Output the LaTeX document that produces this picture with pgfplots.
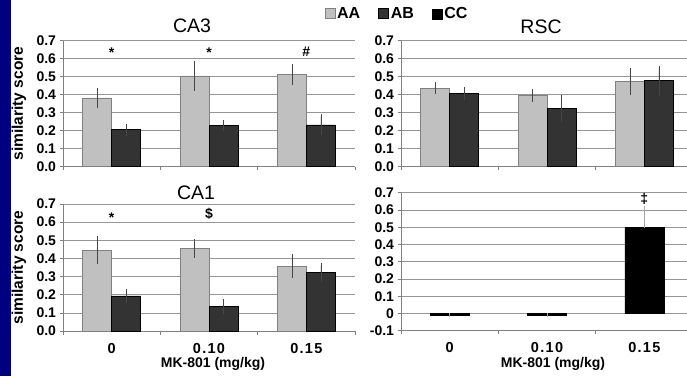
\documentclass[border=0pt]{standalone}
\usepackage{pgfplots}
\pgfplotsset{compat=1.18}
\usepackage{fontspec}
\setmainfont{Liberation Sans}
\definecolor{aa}{RGB}{192,192,192}
\definecolor{aaedge}{RGB}{128,128,128}
\definecolor{ab}{RGB}{51,51,51}
\definecolor{navyblue}{RGB}{0,0,128}
\definecolor{gridc}{RGB}{150,150,150}
\definecolor{axc}{RGB}{128,128,128}
\definecolor{errc}{RGB}{70,70,70}

\newcommand{\tickfont}{\bfseries\fontsize{14}{14}\selectfont}
\newcommand{\xtickfont}{\bfseries\fontsize{14.5}{14.5}\selectfont\addfontfeature{LetterSpace=9}}

\pgfplotsset{
  boxleg/.style={legend image code/.code={\draw[##1] (0pt,-5pt) rectangle (10pt,5pt);}},
  panel/.style={
    scale only axis,
    width=292pt, height=126pt,
    anchor=south west,
    xmin=-0.5, xmax=2.5,
    ymin=0, ymax=0.7,
    ytick={0,0.1,0.2,0.3,0.4,0.5,0.6,0.7},
    axis x line*=bottom, axis y line*=left,
    axis line style={draw=axc, line width=0.6pt},
    ymajorgrids, grid style={draw=gridc, line width=0.6pt},
    tick style={draw=axc, line width=0.6pt},
    tick align=outside, major tick length=3.5pt,
    xtick={-0.5,0.5,1.5,2.5}, xticklabels={},
    /pgf/number format/assume math mode=true,
    yticklabel style={font=\tickfont, /pgf/number format/.cd, fixed, fixed zerofill, precision=1},
    ybar, bar width=29pt,
    error bars/y dir=both, error bars/y explicit,
    error bars/error mark=-,
    error bars/error bar style={draw=errc, line width=0.6pt},
    error bars/error mark options={draw=errc, mark size=2pt, line width=0.6pt},
  },
  aastyle/.style={fill=aa, draw=aaedge, line width=0.6pt, bar shift=-14.5pt, boxleg},
  abstyle/.style={fill=ab, draw=black, line width=0.6pt, bar shift=14.5pt, boxleg},
  catlabels/.style={
    extra x ticks={0,1,2},
    extra x tick labels={0,0.10,0.15},
    extra x tick style={major tick length=0pt, grid=none,
      xticklabel style={font=\xtickfont, anchor=base, yshift=#1}},
  },
  ylab/.style={
    ylabel={similarity score},
    ylabel style={font=\bfseries\fontsize{15.5}{15.5}\selectfont, at={(axis description cs:-0.151,0.5)}, anchor=center, rotate=0},
  },
}

\begin{document}
\begin{tikzpicture}[x=1pt,y=1pt]
\useasboundingbox (0,0) rectangle (687,376);
\fill[white] (0,0) rectangle (687,376);
\fill[navyblue] (0,0) rectangle (11,376);

% CA3
\begin{axis}[panel, ylab, at={(63pt,209.3pt)},
  legend style={at={(0.895,1.214)}, anchor=west, draw=none, fill=none,
    legend columns=3, font=\bfseries\fontsize{16}{16}\selectfont,
    /tikz/every even column/.append style={column sep=16pt},
    legend cell align=left, inner sep=0pt},
  ]
\addplot[aastyle] coordinates {(0,0.382) +- (0,0.045) (1,0.504) +- (0,0.072) (2,0.511) +- (0,0.046)};
\addlegendentry{AA}
\addplot[abstyle] coordinates {(0,0.206) +- (0,0.022) (1,0.228) +- (0,0.02) (2,0.232) +- (0,0.047)};
\addlegendentry{AB}
\addlegendimage{boxleg, fill=black, draw=black}
\addlegendentry{CC}
\node[font=\tickfont, anchor=base] at (axis cs:0,0.605) {*};
\node[font=\tickfont, anchor=base] at (axis cs:1,0.605) {*};
\node[font=\tickfont, anchor=base] at (axis cs:2,0.61) {\#};
\end{axis}

% RSC
\begin{axis}[panel, at={(401pt,209.3pt)}, width=286pt, xmax=2.438]
\addplot[aastyle] coordinates {(0,0.435) +- (0,0.022) (1,0.394) +- (0,0.026) (2,0.472) +- (0,0.063)};
\addplot[abstyle] coordinates {(0,0.407) +- (0,0.024) (1,0.322) +- (0,0.063) (2,0.478) +- (0,0.072)};
\end{axis}

% CA1
\begin{axis}[panel, ylab, catlabels=-22pt, at={(63pt,45pt)}, height=127pt]
\addplot[aastyle] coordinates {(0,0.445) +- (0,0.066) (1,0.456) +- (0,0.04) (2,0.358) +- (0,0.055)};
\addplot[abstyle] coordinates {(0,0.193) +- (0,0.027) (1,0.134) +- (0,0.031) (2,0.322) +- (0,0.04)};
\node[font=\tickfont, anchor=base] at (axis cs:0,0.597) {*};
\node[font=\tickfont, anchor=base] at (axis cs:1,0.62) {\$};
\end{axis}

% bottom right (CC)
\begin{axis}[panel, catlabels=-22pt, at={(401pt,45.3pt)}, width=286pt, xmax=2.438,
  height=138pt, ymin=-0.1, ymax=0.7,
  ytick={-0.1,0,0.1,0.2,0.3,0.4,0.5,0.6,0.7},
  yticklabel style={/pgf/number format/.cd, fixed, precision=1, fixed zerofill=false},
  bar width=39pt]
\addplot[fill=black, draw=black, line width=0.6pt, bar shift=0pt,
  error bars/y dir=plus,
  error bars/error bar style={draw=gray!70, line width=0.8pt},
  error bars/error mark options={draw=gray!70, mark size=2pt}]
  coordinates {(0,-0.012) +- (0,0.003) (1,-0.012) +- (0,0.003) (2,0.497) +- (0,0.116)};
\node[font=\tickfont, anchor=base] at (axis cs:2,0.64) {‡};
\end{axis}

% titles and axis labels
\node[font=\fontsize{19.5}{19.5}\selectfont, anchor=base] at (192,344) {CA3};
\node[font=\fontsize{19.5}{19.5}\selectfont, anchor=base] at (541,343) {RSC};
\node[font=\fontsize{19.5}{19.5}\selectfont, anchor=base] at (196,177) {CA1};
\node[font=\tickfont, anchor=base, inner sep=1pt] at (213,9) {MK-801 (mg/kg)};
\node[font=\tickfont, anchor=base, inner sep=1pt] at (553,9) {MK-801 (mg/kg)};
\end{tikzpicture}
\end{document}
